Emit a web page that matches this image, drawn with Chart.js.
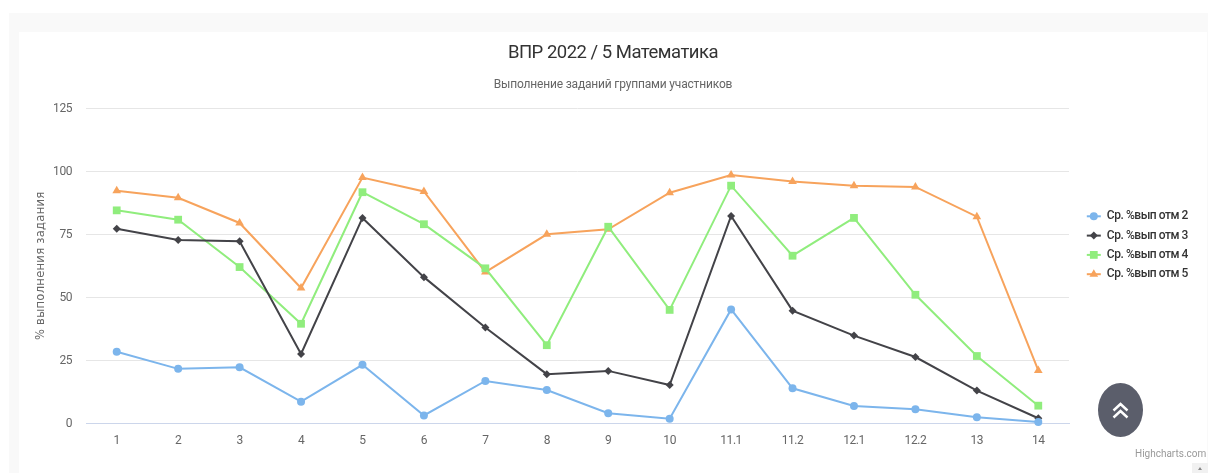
<!DOCTYPE html>
<html><head><meta charset="utf-8">
<script src="https://cdn.jsdelivr.net/npm/chart.js@4"></script>
<style>
html,body{margin:0;padding:0;background:#fff;width:1208px;height:473px;overflow:hidden}
#stage{position:absolute;left:0;top:0;width:1208px;height:473px;filter:blur(.35px)}
#panel{position:absolute;left:9px;top:13px;width:1199px;height:460px;background:#f9f9f9}
#inner{position:absolute;left:19px;top:32px;width:1188px;height:441px;background:#fff}
#c{position:absolute;left:0;top:0}
#wrap{position:absolute;left:0;top:0;width:1208px;height:473px}
#credit{position:absolute;left:1135px;top:448px;font:10px Roboto,sans-serif;color:#999}
#up{position:absolute;left:1098px;top:383px;width:45px;height:54px;border-radius:50%;background:#5b5e6b}
#up svg{position:absolute;left:14px;top:19px}
#sb{position:absolute;left:1192px;top:463px;width:16px;height:10px;background:#f1f1f1}
#sb i{position:absolute;left:6px;top:4px;width:0;height:0;border-left:2px solid transparent;border-right:2px solid transparent;border-bottom:3px solid #888}
</style></head><body>
<div id="stage">
<div id="panel"></div><div id="inner"></div>
<div id="wrap"><canvas id="c" width="1208" height="473"></canvas></div>
<div id="credit">Highcharts.com</div>
<div id="up"><svg width="17" height="17" viewBox="0 0 17 17" fill="none" stroke="#fff" stroke-width="2.4"><path d="M1.5 8.5 L8.5 2 L15.5 8.5"/><path d="M1.5 15.5 L8.5 9 L15.5 15.5"/></svg></div>
<div id="sb"><i></i></div>
</div>
<script>
const categories = ['1','2','3','4','5','6','7','8','9','10','11.1','11.2','12.1','12.2','13','14'];
const otm2 = [28.4,21.6,22.2,8.6,23.2,3.1,16.8,13.2,4,1.8,45.2,13.9,6.9,5.6,2.4,0.5];
const otm3 = [77.2,72.7,72.2,27.5,81.5,58,38,19.5,20.8,15.2,82.3,44.7,34.8,26.3,13,2];
const otm4 = [84.5,80.8,62,39.5,91.7,79,61.5,31,78,45,94.3,66.5,81.5,51,26.7,7];
const otm5 = [92.3,89.5,79.5,53.7,97.5,92,60,75,77,91.5,98.5,96,94.3,93.8,82,21];
const seriesNames = ['Ср. %вып отм 2','Ср. %вып отм 3','Ср. %вып отм 4','Ср. %вып отм 5'];
const seriesColors = ['#7cb5ec','#434348','#90ed7d','#f7a35c'];
const seriesShapes = ['circle','rectRot','rect','triangle'];
const seriesRadius = [4,4,5.5,5];
const titleText = 'ВПР 2022 / 5 Математика';
const subtitleText = 'Выполнение заданий группами участников';
const yAxisTitle = '% выполнения задания';
const FONT = 'Roboto,sans-serif';
const LEG_PAD = 7.3;

function spaced(box, method, ctx, sp){
  const d = box[method];
  box[method] = function(a){ ctx.save(); ctx.letterSpacing = sp; d.call(this,a); ctx.restore(); };
}
const legendPlugin = {
  id:'legendPlugin',
  beforeInit(chart){ chart.$patched = false; },
  beforeLayout(chart){
    const l = chart.legend;
    if(!chart.$patched){
      const f = l.fit;
      l.fit = function(){ f.call(this); this.width = 139; };
      chart.boxes.forEach(b=>{
        if(b===l) return;
        if(b.options && b.options.text===titleText) spaced(b,'draw',chart.ctx,'-0.5px');
        if(b.options && b.options.text===subtitleText) spaced(b,'draw',chart.ctx,'-0.18px');
      });
      spaced(chart.scales.y,'drawTitle',chart.ctx,'0.3px');
      chart.$patched = true;
    }
  },
  afterLayout(chart){
    const l = chart.legend;
    l.left = 1079.5; l.right = 1208; l.top = 203;
  },
  beforeDraw(chart){ chart.ctx.letterSpacing = '-0.45px'; },
  afterDraw(chart){
    const l = chart.legend, ctx = chart.ctx;
    l.legendItems.forEach((it,i)=>{
      const hh = l.legendHitBoxes[i].height;
      const y = l.top + LEG_PAD + i*(hh+LEG_PAD) + hh/2, x0 = l.left + LEG_PAD, x1 = x0 + 14, cx=(x0+x1)/2;
      ctx.save();
      ctx.strokeStyle = seriesColors[i]; ctx.lineWidth = 2;
      ctx.beginPath(); ctx.moveTo(x0,y); ctx.lineTo(x1,y); ctx.stroke();
      ctx.fillStyle = seriesColors[i];
      Chart.helpers.drawPoint(ctx,{pointStyle:seriesShapes[i],radius:seriesRadius[i],borderWidth:0,rotation:0},cx,y);
      ctx.restore();
    });
  }
};

new Chart(document.getElementById('c'),{
  type:'line',
  data:{labels:categories,datasets:[otm2,otm3,otm4,otm5].map((d,i)=>({
    label:seriesNames[i],data:d,borderColor:seriesColors[i],backgroundColor:seriesColors[i],
    borderWidth:2,tension:0,pointStyle:seriesShapes[i],pointRadius:seriesRadius[i],
    pointBorderWidth:0,fill:false,clip:false
  }))},
  options:{
    responsive:false,animation:false,
    layout:{padding:{left:18,right:0,top:41,bottom:0}},
    plugins:{
      title:{display:true,text:titleText,color:'#333',font:{family:FONT,size:18.5,weight:'normal',lineHeight:1.3},padding:{top:0,bottom:8}},
      subtitle:{display:true,text:subtitleText,color:'#666',font:{family:FONT,size:12,weight:'normal',lineHeight:1.2},padding:{top:5,bottom:15.85}},
      legend:{display:true,position:'right',align:'start',
        labels:{color:'#333',font:{family:FONT,size:12,weight:'500'},padding:LEG_PAD,boxWidth:14,boxHeight:12,
          generateLabels:(chart)=>chart.data.datasets.map((d,i)=>({text:d.label,fillStyle:'transparent',strokeStyle:'transparent',lineWidth:0,datasetIndex:i,fontColor:'#333'}))}
      },
      tooltip:{enabled:false}
    },
    scales:{
      x:{offset:true,grid:{display:false,drawTicks:false},border:{color:'#ccd6eb',width:1},
        ticks:{color:'#666',font:{family:FONT,size:12},padding:10,maxRotation:0,autoSkip:false},
        afterFit(s){s.height=49.7;}},
      y:{min:0,max:125,grid:{color:'#e6e6e6',drawTicks:false},border:{display:false},
        ticks:{stepSize:25,color:'#666',font:{family:FONT,size:12},padding:14,labelOffset:1},
        title:{display:true,text:yAxisTitle,color:'#666',font:{family:'"DejaVu Sans",sans-serif',size:11.5,weight:'normal'},padding:{top:16,bottom:0}},
        afterFit(s){s.width=68;}}
    }
  },
  plugins:[legendPlugin]
});
</script>
</body></html>
